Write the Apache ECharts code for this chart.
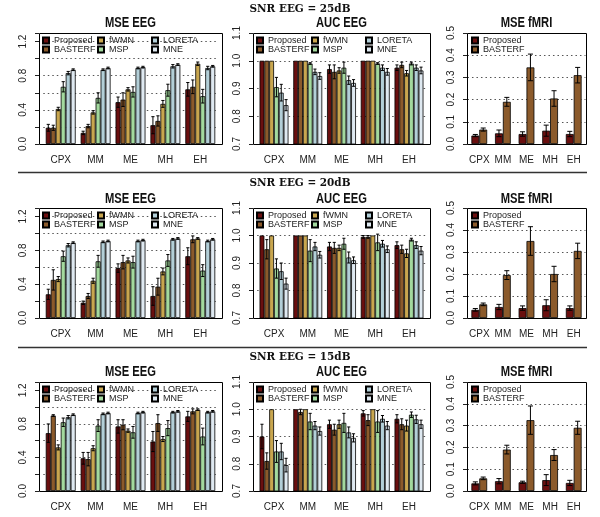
<!DOCTYPE html>
<html><head><meta charset="utf-8">
<script src="https://cdn.jsdelivr.net/npm/echarts@6/dist/echarts.min.js"></script>
<style>html,body{margin:0;padding:0;background:#fff}#c{width:600px;height:517px}</style>
</head><body><div id="c"></div>
<script>
// ---------- data ----------
const categories = ['CPX', 'MM', 'ME', 'MH', 'EH'];
const eegMethods = ['Proposed', 'BASTERF', 'fWMN', 'MSP', 'LORETA', 'MNE'];
const fmriMethods = ['Proposed', 'BASTERF'];
const snrLabels = ['SNR EEG = 25dB', 'SNR EEG = 20dB', 'SNR EEG = 15dB'];
const panelTitles = ['MSE EEG', 'AUC EEG', 'MSE fMRI'];

// rows: methods (Proposed, BASTERF, fWMN, MSP, LORETA, MNE); cols: categories
const mseEEG25 = [
  [0.19, 0.13, 0.49, 0.22, 0.64],
  [0.19, 0.21, 0.52, 0.27, 0.67],
  [0.41, 0.37, 0.64, 0.47, 0.94],
  [0.67, 0.54, 0.61, 0.63, 0.56],
  [0.83, 0.87, 0.89, 0.91, 0.89],
  [0.87, 0.89, 0.90, 0.93, 0.91]
];
const mseEEG25Err = [
  [0.04, 0.02, 0.06, 0.10, 0.08],
  [0.03, 0.02, 0.08, 0.06, 0.08],
  [0.02, 0.02, 0.02, 0.04, 0.02],
  [0.06, 0.06, 0.06, 0.07, 0.08],
  [0.02, 0.01, 0.01, 0.02, 0.02],
  [0.01, 0.01, 0.01, 0.01, 0.01]
];
const mseEEG20 = [
  [0.28, 0.18, 0.59, 0.26, 0.73],
  [0.45, 0.26, 0.66, 0.37, 0.93],
  [0.46, 0.44, 0.68, 0.55, 0.94],
  [0.73, 0.67, 0.66, 0.68, 0.56],
  [0.86, 0.90, 0.91, 0.93, 0.91],
  [0.89, 0.91, 0.92, 0.94, 0.93]
];
const mseEEG20Err = [
  [0.06, 0.02, 0.05, 0.11, 0.10],
  [0.12, 0.03, 0.08, 0.10, 0.04],
  [0.03, 0.03, 0.03, 0.04, 0.01],
  [0.06, 0.07, 0.07, 0.07, 0.07],
  [0.02, 0.01, 0.01, 0.01, 0.01],
  [0.01, 0.01, 0.01, 0.01, 0.01]
];
const mseEEG15 = [
  [0.69, 0.39, 0.77, 0.59, 0.89],
  [0.90, 0.38, 0.79, 0.81, 0.95],
  [0.52, 0.51, 0.72, 0.62, 0.97],
  [0.82, 0.78, 0.70, 0.75, 0.65],
  [0.88, 0.92, 0.93, 0.94, 0.94],
  [0.91, 0.93, 0.94, 0.95, 0.95]
];
const mseEEG15Err = [
  [0.11, 0.07, 0.08, 0.12, 0.06],
  [0.01, 0.08, 0.06, 0.10, 0.03],
  [0.03, 0.03, 0.02, 0.03, 0.01],
  [0.05, 0.07, 0.07, 0.09, 0.10],
  [0.02, 0.01, 0.01, 0.01, 0.01],
  [0.01, 0.01, 0.01, 0.01, 0.01]
];
const aucEEG25 = [
  [1.0, 1.0, 0.97, 1.0, 0.975],
  [1.0, 1.0, 0.96, 1.0, 0.985],
  [1.0, 1.0, 0.965, 1.0, 0.955],
  [0.905, 0.99, 0.975, 0.99, 0.99],
  [0.885, 0.96, 0.93, 0.975, 0.975],
  [0.84, 0.945, 0.92, 0.96, 0.965]
];
const aucEEG25Err = [
  [0, 0, 0.015, 0, 0.01],
  [0, 0, 0.025, 0, 0.01],
  [0, 0, 0.01, 0, 0.01],
  [0.035, 0.003, 0.02, 0.003, 0.005],
  [0.03, 0.01, 0.015, 0.01, 0.01],
  [0.02, 0.012, 0.012, 0.012, 0.012]
];
const aucEEG20 = [
  [1.0, 1.0, 0.96, 0.995, 0.965],
  [0.95, 1.0, 0.955, 0.995, 0.95],
  [1.0, 1.0, 0.955, 1.0, 0.935],
  [0.88, 0.945, 0.97, 0.975, 0.985],
  [0.87, 0.96, 0.92, 0.97, 0.965],
  [0.825, 0.93, 0.91, 0.95, 0.945]
];
const aucEEG20Err = [
  [0, 0, 0.015, 0.005, 0.012],
  [0.035, 0, 0.02, 0.005, 0.015],
  [0, 0, 0.01, 0, 0.015],
  [0.035, 0.04, 0.02, 0.03, 0.005],
  [0.03, 0.015, 0.02, 0.012, 0.012],
  [0.02, 0.012, 0.012, 0.012, 0.015]
];
const aucEEG15 = [
  [0.90, 1.0, 0.945, 0.985, 0.965],
  [0.81, 0.99, 0.925, 0.96, 0.945],
  [1.0, 1.0, 0.945, 1.0, 0.94],
  [0.845, 0.955, 0.95, 0.955, 0.98],
  [0.845, 0.94, 0.915, 0.965, 0.963],
  [0.795, 0.92, 0.895, 0.94, 0.945]
];
const aucEEG15Err = [
  [0.045, 0, 0.015, 0.01, 0.015],
  [0.03, 0.01, 0.02, 0.02, 0.02],
  [0, 0, 0.015, 0, 0.02],
  [0.04, 0.03, 0.035, 0.04, 0.01],
  [0.03, 0.015, 0.02, 0.012, 0.015],
  [0.025, 0.015, 0.015, 0.015, 0.015]
];
const mseFMRI25 = [
  [0.038, 0.048, 0.045, 0.06, 0.045],
  [0.065, 0.19, 0.345, 0.205, 0.31]
];
const mseFMRI25Err = [
  [0.005, 0.015, 0.01, 0.025, 0.012],
  [0.007, 0.02, 0.06, 0.035, 0.035]
];
const mseFMRI20 = [
  [0.037, 0.05, 0.045, 0.058, 0.045],
  [0.062, 0.195, 0.35, 0.2, 0.305]
];
const mseFMRI20Err = [
  [0.006, 0.012, 0.01, 0.025, 0.01],
  [0.006, 0.02, 0.065, 0.035, 0.035]
];
const mseFMRI15 = [
  [0.035, 0.045, 0.04, 0.05, 0.037],
  [0.058, 0.19, 0.325, 0.165, 0.29]
];
const mseFMRI15Err = [
  [0.007, 0.012, 0.005, 0.025, 0.012],
  [0.006, 0.02, 0.065, 0.025, 0.03]
];

// ---------- style / layout ----------
const colors = ['#6a0f0f', '#8b5a2b', '#c8a64f', '#a3d99e', '#b3cfd8', '#dfe9f1'];
const FONT = "'Liberation Sans',Arial,sans-serif";
const SERIF = "'DejaVu Serif','Liberation Serif',serif";
const colsX = [[39, 222], [253, 430], [467, 586]];
const rowsY = [[33, 144], [208, 318], [382, 491]];
const rowTitleY = [9, 183.5, 357];
const panelTitleY = [23, 199, 372.5];

const rowsData = [
  [[mseEEG25, mseEEG25Err], [aucEEG25, aucEEG25Err], [mseFMRI25, mseFMRI25Err]],
  [[mseEEG20, mseEEG20Err], [aucEEG20, aucEEG20Err], [mseFMRI20, mseFMRI20Err]],
  [[mseEEG15, mseEEG15Err], [aucEEG15, aucEEG15Err], [mseFMRI15, mseFMRI15Err]]
];
const axisDefs = [
  {min: 0, max: 1.3, interval: 0.2, fmt: v => (Math.abs(Math.round(v * 10) % 4) === 0 && v <= 1.2 + 1e-9) ? v.toFixed(1) : ''},
  {min: 0.7, max: 1.1, interval: 0.1, fmt: v => v.toFixed(1)},
  {min: 0, max: 0.5, interval: 0.1, fmt: v => v.toFixed(1)}
];

function makeErr(n) {
  return function (params, api) {
    const ci = api.value(0), j = api.value(1), lo = api.value(2), hi = api.value(3);
    const catW = api.size([1, 0])[0];
    const bw = catW / (n + 1);
    const pLo = api.coord([ci, lo]);
    const pHi = api.coord([ci, hi]);
    const x = pLo[0] + (j - (n - 1) / 2) * bw;
    const cap = bw * 0.32;
    const st = {stroke: '#000', lineWidth: 1};
    return {type: 'group', children: [
      {type: 'line', shape: {x1: x, y1: pLo[1], x2: x, y2: pHi[1]}, style: st},
      {type: 'line', shape: {x1: x - cap, y1: pLo[1], x2: x + cap, y2: pLo[1]}, style: st},
      {type: 'line', shape: {x1: x - cap, y1: pHi[1], x2: x + cap, y2: pHi[1]}, style: st}
    ]};
  };
}

const grids = [], xAxes = [], yAxes = [], series = [], legends = [], graphics = [];
let gi = 0;
for (let r = 0; r < 3; r++) {
  graphics.push({type: 'text', x: 300, y: rowTitleY[r], z: 20, scaleX: 0.95,
    style: {text: snrLabels[r], align: 'center', verticalAlign: 'middle', textAlign: 'center', textVerticalAlign: 'middle',
      fontSize: 11, fontWeight: 'bold', fontFamily: SERIF, fill: '#111'}});
  for (let c = 0; c < 3; c++) {
    const [bl, br] = colsX[c];
    const [bt, bb] = rowsY[r];
    const methods = c === 2 ? fmriMethods : eegMethods;
    const n = methods.length;
    const range = 5 * (n + 1) - 1, pad = 0.04 * range, U = range + 2 * pad;
    const u = (br - bl) / U, off = (pad - 0.5) * u;
    const ad = axisDefs[c];
    grids.push({left: bl + off, top: bt, width: (br - bl) - 2 * off, height: bb - bt});
    xAxes.push({type: 'category', gridIndex: gi, data: categories,
      axisLine: {show: false}, axisTick: {show: false},
      axisLabel: {interval: 0, margin: 11, fontSize: 10, color: '#222', fontFamily: FONT}});
    yAxes.push({type: 'value', gridIndex: gi, min: ad.min, max: ad.max, interval: ad.interval, offset: off,
      axisLine: {show: false},
      axisTick: {show: true, length: 4, lineStyle: {color: '#222', width: 1}},
      axisLabel: {rotate: 90, margin: 11, fontSize: 10, color: '#222', fontFamily: FONT, formatter: ad.fmt},
      splitLine: {show: true, lineStyle: {type: [1.5, 3], color: '#555', width: 1}}});
    const [vals, errs] = rowsData[r][c];
    const errData = [];
    for (let j = 0; j < n; j++) {
      series.push({type: 'bar', name: methods[j], xAxisIndex: gi, yAxisIndex: gi, data: vals[j],
        barGap: '0%', barCategoryGap: (100 / (n + 1)) + '%', silent: true,
        itemStyle: {color: colors[j], borderColor: '#000', borderWidth: 0.8}});
      for (let i = 0; i < categories.length; i++) {
        if (errs[j][i] > 0) errData.push([i, j, vals[j][i] - errs[j][i], vals[j][i] + errs[j][i]]);
      }
    }
    series.push({type: 'custom', xAxisIndex: gi, yAxisIndex: gi, renderItem: makeErr(n), data: errData,
      encode: {x: 0, y: [2, 3]}, z: 5, silent: true, clip: false});
    // legends (3 columns of 2 for EEG, 1 column for fMRI)
    const colsDx = c === 2 ? [4] : [3, 58, 112];
    colsDx.forEach((dx, k) => {
      legends.push({left: bl + dx, top: bt + 3, orient: 'vertical', padding: 0, itemGap: 0,
        itemWidth: 6, itemHeight: 6, icon: 'rect', selectedMode: false,
        data: methods.slice(2 * k, 2 * k + 2),
        textStyle: {fontSize: 9, lineHeight: 9, fontFamily: FONT, color: '#222'}});
    });
    // panel title
    graphics.push({type: 'text', x: (bl + br) / 2, y: panelTitleY[r], z: 20, scaleX: 0.8,
      style: {text: panelTitles[c], align: 'center', verticalAlign: 'middle', textAlign: 'center', textVerticalAlign: 'middle',
        fontSize: 14, fontWeight: 'bold', fontFamily: FONT, fill: '#111'}});
    // box frame
    graphics.push({type: 'rect', z: 20, shape: {x: bl + 0.5, y: bt + 0.5, width: br - bl, height: bb - bt},
      style: {fill: 'none', stroke: '#000', lineWidth: 1}});
    gi++;
  }
}
// row separators
[172.5, 347.5].forEach(y => graphics.push({type: 'line', z: 20,
  shape: {x1: 18, y1: y, x2: 587, y2: y}, style: {stroke: '#333', lineWidth: 1.5}}));

const chart = echarts.init(document.getElementById('c'), null, {renderer: 'canvas'});
chart.setOption({
  animation: false,
  backgroundColor: '#fff',
  grid: grids, xAxis: xAxes, yAxis: yAxes, series: series, legend: legends,
  graphic: {elements: graphics}
});
</script></body></html>
